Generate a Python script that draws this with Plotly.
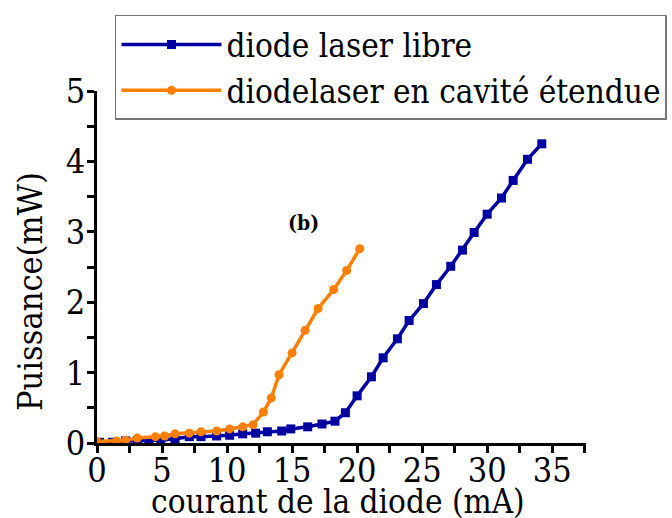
import plotly.graph_objects as go

# Data: diode laser libre (free-running)
libre_current = [0.2, 1.2, 2.2, 3.1, 4.0, 4.9, 6.0, 7.1, 8.0, 9.2, 10.2, 11.2, 12.2, 13.1,
                 14.2, 14.9, 16.2, 17.3, 18.3, 19.1, 20.0, 21.1, 22.0, 23.1, 24.0, 25.1,
                 26.1, 27.2, 28.1, 29.0, 30.0, 31.1, 32.0, 33.1, 34.2]
libre_power = [0.01, 0.01, 0.03, 0.03, 0.03, 0.04, 0.06, 0.09, 0.09, 0.10, 0.11, 0.13, 0.14, 0.16,
               0.17, 0.20, 0.23, 0.27, 0.31, 0.43, 0.67, 0.94, 1.21, 1.48, 1.74, 1.98,
               2.25, 2.51, 2.74, 2.99, 3.25, 3.48, 3.73, 4.03, 4.25]

# Data: diode laser en cavité étendue (extended cavity)
cav_current = [0.0, 1.5, 2.2, 3.1, 4.5, 5.2, 6.0, 7.1, 8.0, 9.2, 10.2, 11.2, 12.0,
               12.8, 13.4, 14.0, 15.0, 16.0, 17.0, 18.2, 19.2, 20.2]
cav_power = [0.02, 0.03, 0.04, 0.07, 0.09, 0.10, 0.13, 0.14, 0.16, 0.17, 0.20, 0.23, 0.26,
             0.44, 0.64, 0.97, 1.28, 1.60, 1.91, 2.18, 2.45, 2.76]

series_names = ["diode laser libre", "diodelaser en cavité étendue"]
x_ticks = [0, 5, 10, 15, 20, 25, 30, 35]
y_ticks = [0, 1, 2, 3, 4, 5]

FONT = "DejaVu Serif Condensed, DejaVu Serif, serif"
BLUE = "#0000A0"
ORANGE = "#FF8000"

fig = go.Figure()
fig.add_trace(go.Scatter(
    x=libre_current, y=libre_power, mode="lines+markers", name=series_names[0],
    line=dict(color=BLUE, width=3.5),
    marker=dict(symbol="square", size=9, color=BLUE),
))
fig.add_trace(go.Scatter(
    x=cav_current, y=cav_power, mode="lines+markers", name=series_names[1],
    line=dict(color=ORANGE, width=3.5),
    marker=dict(symbol="circle", size=9, color=ORANGE),
))

axis_common = dict(
    showline=True, linecolor="black", linewidth=3,
    ticks="outside", ticklen=7, tickwidth=3, tickcolor="black",
    showgrid=False, zeroline=False,
    tickfont=dict(family=FONT, size=34, color="black"),
)

fig.update_xaxes(range=[0, 37.6], tickvals=x_ticks, ticklabelstandoff=-12,
                 minor=dict(ticks="outside", dtick=2.5, ticklen=7, tickwidth=3, tickcolor="black"),
                 **axis_common)
fig.update_yaxes(range=[0, 5], tickvals=y_ticks, ticklabelstandoff=-5,
                 minor=dict(ticks="outside", dtick=0.5, ticklen=7, tickwidth=3, tickcolor="black"),
                 **axis_common)

fig.add_annotation(text="courant de la diode (mA)", xref="paper", yref="paper",
                   x=0.493, y=-0.165, xanchor="center", yanchor="middle", showarrow=False,
                   font=dict(family=FONT, size=33, color="black"))
fig.add_annotation(text="Puissance(mW)", xref="paper", yref="paper",
                   x=-0.137, y=0.429, xanchor="center", yanchor="middle", showarrow=False,
                   textangle=-90, font=dict(family=FONT, size=34, color="black"))
fig.add_annotation(text="<b>(b)</b>", xref="x", yref="y", x=15.9, y=3.13,
                   showarrow=False, font=dict(family=FONT, size=21, color="black"))

fig.update_layout(
    width=672, height=518,
    margin=dict(l=97, r=86, t=91, b=75, autoexpand=False),
    paper_bgcolor="white", plot_bgcolor="white",
    showlegend=True,
    legend=dict(
        x=0.0368, y=1.216, xanchor="left", yanchor="top",
        bgcolor="white", bordercolor="#777777", borderwidth=1.5,
        font=dict(family=FONT, size=33, color="black"),
        itemwidth=100, tracegroupgap=0,
    ),
)

fig.write_html("out.html")
